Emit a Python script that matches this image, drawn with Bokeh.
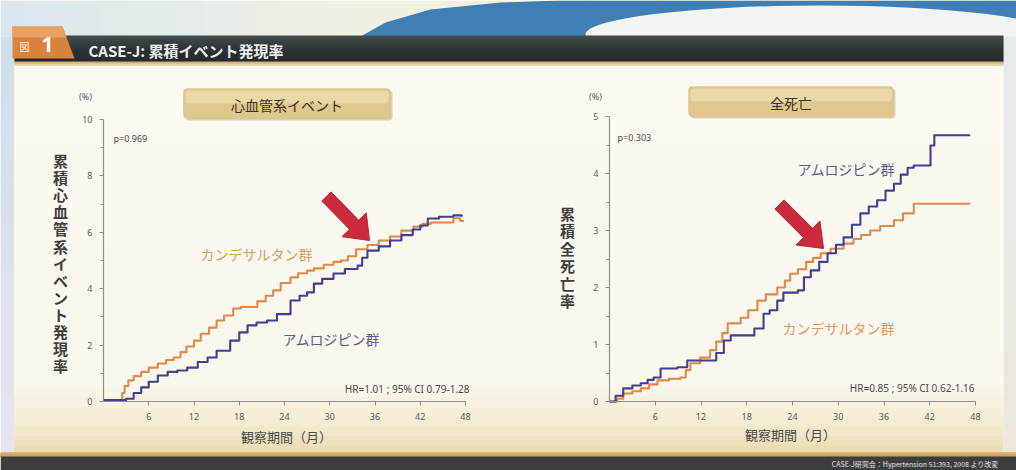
import math
from bokeh.plotting import figure
from bokeh.models import Range1d, LinearAxis, FixedTicker, BoxAnnotation, Label
from bokeh.core.properties import value
from bokeh.embed import file_html
from bokeh.resources import INLINE

# ---------------- data ----------------
month_ticks = [6, 12, 18, 24, 30, 36, 42, 48]
cv_ticks = [0, 2, 4, 6, 8, 10]
cv_minor = [1, 3, 5, 7, 9]
death_ticks = [0, 1, 2, 3, 4, 5]
death_minor = [0.5, 1.5, 2.5, 3.5, 4.5]

# cumulative cardiovascular events (%), candesartan
cv_cand_t = [0, 2.5, 2.8, 3.3, 4.0, 5.0, 6.0, 7.2, 8.3, 9.3, 10.2, 11.0, 12.0, 12.9, 14.0,
             15.0, 16.0, 17.2, 18.2, 20.4, 21.5, 22.5, 23.5, 24.8, 25.8, 27.0, 27.9, 29.2,
             30.5, 31.5, 32.4, 33.5, 35.0, 36.5, 38.0, 39.5, 41.1, 42.3, 43.4, 46.4, 47.3, 47.8]
cv_cand_v = [0.05, 0.3, 0.55, 0.75, 0.9, 1.05, 1.2, 1.35, 1.47, 1.56, 1.75, 1.95, 2.16, 2.4,
             2.62, 2.87, 3.05, 3.3, 3.35, 3.55, 3.75, 3.94, 4.2, 4.4, 4.55, 4.64, 4.72, 4.85,
             4.95, 5.0, 5.15, 5.4, 5.55, 5.71, 5.85, 6.06, 6.2, 6.3, 6.35, 6.5, 6.4, 6.4]

# cumulative cardiovascular events (%), amlodipine
cv_aml_t = [0, 3.0, 4.0, 5.0, 6.0, 7.2, 8.5, 9.8, 11.1, 12.5, 13.8, 15.0, 16.8, 18.0, 19.1,
            20.3, 21.7, 23.0, 24.8, 26.0, 27.0, 27.9, 29.0, 30.5, 32.0, 33.7, 34.3, 35.0,
            36.5, 38.0, 39.5, 41.0, 42.0, 43.0, 44.5, 46.4, 47.5]
cv_aml_v = [0.05, 0.1, 0.3, 0.5, 0.7, 0.92, 1.05, 1.1, 1.2, 1.4, 1.56, 1.8, 2.16, 2.45, 2.7,
            2.8, 2.87, 3.1, 3.58, 3.75, 3.87, 4.18, 4.35, 4.54, 4.7, 4.82, 5.1, 5.35, 5.5,
            5.71, 5.9, 6.1, 6.24, 6.49, 6.55, 6.6, 6.55]

# cumulative all-cause death (%), amlodipine
death_aml_t = [0, 0.8, 1.8, 3.0, 4.1, 5.0, 5.8, 6.7, 8.9, 10.2, 14.0, 15.0, 15.9, 19.0, 20.2,
               21.0, 22.0, 22.8, 24.7, 25.5, 26.4, 27.5, 28.6, 29.7, 30.7, 31.8, 32.9, 34.0,
               35.1, 36.2, 37.3, 38.2, 39.1, 39.9, 42.1, 42.6, 47.3]
death_aml_v = [0, 0.1, 0.23, 0.28, 0.32, 0.38, 0.42, 0.58, 0.6, 0.72, 0.85, 1.07, 1.16, 1.28,
               1.54, 1.6, 1.77, 1.91, 1.95, 2.18, 2.3, 2.45, 2.6, 2.75, 2.88, 3.1, 3.3, 3.42,
               3.53, 3.7, 3.82, 3.98, 4.1, 4.14, 4.49, 4.67, 4.67]

# cumulative all-cause death (%), candesartan
death_cand_t = [0, 1.0, 1.8, 3.0, 4.1, 5.2, 6.3, 7.8, 9.3, 10.0, 10.6, 11.9, 13.2, 14.0, 14.8,
                15.5, 17.2, 18.2, 19.4, 20.5, 22.0, 23.0, 23.7, 24.7, 25.8, 26.7, 27.7, 29.0,
                30.7, 32.0, 33.0, 34.2, 35.5, 37.3, 38.5, 39.9, 47.3]
death_cand_v = [0, 0.05, 0.14, 0.18, 0.23, 0.3, 0.37, 0.4, 0.42, 0.55, 0.67, 0.77, 0.9, 1.05,
                1.2, 1.37, 1.47, 1.6, 1.77, 1.88, 2.0, 2.12, 2.24, 2.32, 2.45, 2.52, 2.6, 2.68,
                2.77, 2.85, 2.92, 3.0, 3.08, 3.18, 3.3, 3.47, 3.47]

# ---------------- styling ----------------
W, H = 1016, 470
JP_NAME = "Noto Sans CJK JP"
JP = value(JP_NAME)
NUM = "Noto Sans"
ORANGE = "#e0894c"
BLUE = "#3f418f"

p = figure(width=W, height=H, x_range=Range1d(0, W), y_range=Range1d(H, 0),
           output_backend="svg", toolbar_location=None, min_border=0,
           x_axis_type=None, y_axis_type=None)
p.outline_line_color = None
p.background_fill_color = "#faf8f0"
p.border_fill_color = "#faf8f0"


def hexrgb(c):
    c = c.lstrip("#")
    return tuple(int(c[i:i + 2], 16) for i in (0, 2, 4))


def blend(stops, t):
    for (t0, c0), (t1, c1) in zip(stops[:-1], stops[1:]):
        if t <= t1:
            f = 0 if t1 == t0 else (t - t0) / (t1 - t0)
            a, b = hexrgb(c0), hexrgb(c1)
            return "#%02x%02x%02x" % tuple(round(a[i] + (b[i] - a[i]) * f) for i in range(3))
    return stops[-1][1]


def gradient(x0, x1, y0, y1, stops, vertical=True, n=40):
    L, R, T, B, C = [], [], [], [], []
    for i in range(n):
        f0, f1 = i / n, (i + 1) / n
        C.append(blend(stops, (f0 + f1) / 2))
        if vertical:
            L.append(x0); R.append(x1)
            T.append(y0 + (y1 - y0) * f0); B.append(y0 + (y1 - y0) * f1 + 0.6)
        else:
            L.append(x0 + (x1 - x0) * f0); R.append(x0 + (x1 - x0) * f1 + 0.6)
            T.append(y0); B.append(y1)
    p.quad(left=L, right=R, top=T, bottom=B, fill_color=C, line_color=None)


# page backdrop
gradient(0, W, 0, 36, [(0, "#d9e6ee"), (0.35, "#eef0e2"), (0.6, "#f5f0d4"), (1, "#f3efd6")],
         vertical=False)
p.patch([360, 385, 430, 500, 560, W, W], [36, 22, 9, 2, 0, 0, 36], fill_color="#3f7fb4",
        line_color=None)
p.ellipse(x=[820], y=[34], width=[470], height=[58], fill_color="#f2f4f0", line_color=None)
gradient(0, 14, 36, 455, [(0, "#cfdfea"), (1, "#e6e2ee")])
gradient(1003, W, 36, 455, [(0, "#e6ecee"), (1, "#ece6da")])
gradient(14, 1003, 64, 455, [(0, "#fbf9f2"), (0.82, "#faf7ec"), (0.92, "#f4ebd0"),
                              (1, "#ead9ae")])
gradient(0, W, 452, 456, [(0, "#d9b46e"), (1, "#caa266")])
p.quad(left=[0], right=[W], top=[456], bottom=[H], fill_color="#3a3e3f", line_color=None)

# header bar and tab
gradient(14, 1003, 35, 61, [(0, "#454c4e"), (0.5, "#2e3536"), (1, "#22292a")], n=13)
gradient(14, 1003, 61, 65, [(0, "#c9a060"), (1, "#f1e2bf")], n=4)
p.patch([12, 62, 74, 12], [26, 26, 58, 58], fill_color="#d9833f", line_color=None)
p.patch([12, 62, 66, 12], [26, 26, 37, 37], fill_color="#e9a060", line_color=None)
p.text(x=[24], y=[46], text=["図"], text_font=JP, text_font_size="10px",
       text_color="#fff4e8", text_baseline="middle", text_align="center")
p.text(x=[47], y=[44], text=["1"], text_font=value(NUM), text_font_size="21px",
       text_font_style="bold", text_color="#ffffff", text_baseline="middle",
       text_align="center")
p.text(x=[88], y=[50], text=["CASE-J: 累積イベント発現率"], text_font=JP,
       text_font_size="15px", text_font_style="bold", text_color="#eeeeee",
       text_baseline="middle")
p.text(x=[998], y=[463], text=["CASE-J研究会：Hypertension 51:393, 2008 より改変"],
       text_font=JP, text_font_size="7px", text_color="#e8e8e8", text_baseline="middle",
       text_align="right")

# panel title boxes (labels added after the boxes so they sit on top)
for (l, r, t, b, label) in [(183, 390, 88, 118, "心血管系イベント"), (688, 893, 86, 116, "全死亡")]:
    p.add_layout(BoxAnnotation(left=l + 2, right=r + 2, top=t + 2, bottom=b + 2,
                               fill_color="#c8b488", fill_alpha=0.6, line_color=None,
                               border_radius=4))
    p.add_layout(BoxAnnotation(left=l, right=r, top=t, bottom=b, fill_color="#dfc78e",
                               fill_alpha=1, line_color="#cdb277", line_width=1,
                               border_radius=4))
    p.add_layout(BoxAnnotation(left=l + 2, right=r - 2, top=t + 2, bottom=(t + b) / 2,
                               fill_color="#ecdcae", fill_alpha=0.8, line_color=None,
                               border_radius=3))
    p.add_layout(Label(x=(l + r) / 2, y=(t + b) / 2 + 1, text=label, text_font=JP_NAME,
                       text_font_size="14px", text_color="#3a3022", text_baseline="middle",
                       text_align="center"))

# ---------------- chart scales ----------------
charts = {
    # name: (px of x=0, px of x=48, px of y=0, px of y=top, y top)
    "cv": (103, 465, 401, 119, 10),
    "death": (609, 975, 401, 116, 5),
}
xr, yr = {}, {}
for name, (x0, x1, y0, y1, ytop) in charts.items():
    sx = (x1 - x0) / 48.0
    sy = (y0 - y1) / float(ytop)
    xr[name] = Range1d(-x0 / sx, (W - x0) / sx)
    yr[name] = Range1d(-(H - y0) / sy, y0 / sy)
p.extra_x_ranges = xr
p.extra_y_ranges = yr


def axes(name, ymax, yt, ym):
    xa = LinearAxis(x_range_name=name, y_range_name=name, fixed_location=0, bounds=(0, 48),
                    ticker=FixedTicker(ticks=month_ticks))
    ya = LinearAxis(x_range_name=name, y_range_name=name, fixed_location=0, bounds=(0, ymax),
                    ticker=FixedTicker(ticks=yt, minor_ticks=ym))
    for ax in (xa, ya):
        ax.axis_line_color = "#8e8e8e"
        ax.axis_line_width = 1.2
        ax.major_tick_line_color = "#8e8e8e"
        ax.minor_tick_line_color = "#8e8e8e"
        ax.major_tick_in = 0
        ax.major_tick_out = 4
        ax.minor_tick_in = 0
        ax.minor_tick_out = 3
        ax.major_label_text_font = NUM
        ax.major_label_text_font_size = "9px"
        ax.major_label_text_color = "#5a5a5a"
        ax.major_label_standoff = 7
    xa.minor_tick_out = 0
    p.add_layout(xa, "below")
    p.add_layout(ya, "left")


axes("cv", 10, cv_ticks, cv_minor)
axes("death", 5, death_ticks, death_minor)

# Kaplan-Meier style step curves
for name, t, v, col in [("cv", cv_cand_t, cv_cand_v, ORANGE), ("cv", cv_aml_t, cv_aml_v, BLUE),
                        ("death", death_cand_t, death_cand_v, ORANGE),
                        ("death", death_aml_t, death_aml_v, BLUE)]:
    p.step(x=t, y=v, mode="after", x_range_name=name, y_range_name=name, line_color=col,
           line_width=2.1, line_join="round")


# red arrows
def arrow(tail, tip, sw=13, hw=34, hl=22):
    (tx, ty), (hx, hy) = tail, tip
    L = math.hypot(hx - tx, hy - ty)
    ux, uy = (hx - tx) / L, (hy - ty) / L
    nx, ny = -uy, ux
    bx, by = hx - ux * hl, hy - uy * hl
    xs = [tx + nx * sw / 2, bx + nx * sw / 2, bx + nx * hw / 2, hx, bx - nx * hw / 2,
          bx - nx * sw / 2, tx - nx * sw / 2]
    ys = [ty + ny * sw / 2, by + ny * sw / 2, by + ny * hw / 2, hy, by - ny * hw / 2,
          by - ny * sw / 2, ty - ny * sw / 2]
    p.patch(xs, ys, fill_color="#cc2a3d", line_color="#b82234", line_width=1)


arrow((326, 196), (369, 240))
arrow((779, 204), (823, 248))


# text annotations
def txt(x, y, s, size, color, align="left", font=JP, style="normal"):
    p.text(x=[x], y=[y], text=[s], text_font=font, text_font_size=size, text_color=color,
           text_baseline="middle", text_align=align, text_font_style=style)


txt(85, 96, "(%)", "9px", "#5a5a5a", "center", value(NUM))
txt(595, 96, "(%)", "9px", "#5a5a5a", "center", value(NUM))
txt(113, 138, "p=0.969", "9px", "#4a4a4a", "left", value(NUM))
txt(617, 137, "p=0.303", "9px", "#4a4a4a", "left", value(NUM))
txt(256, 253, "カンデサルタン群", "14px", "#d99a66", "center")
txt(331, 338, "アムロジピン群", "14px", "#5b5f86", "center")
txt(846, 168, "アムロジピン群", "14px", "#5b5f86", "center")
txt(838, 327, "カンデサルタン群", "14px", "#d99a66", "center")
txt(469, 388, "HR=1.01 ; 95% CI 0.79-1.28", "10px", "#4a4a4a", "right", value(NUM))
txt(974, 387, "HR=0.85 ; 95% CI 0.62-1.16", "10px", "#4a4a4a", "right", value(NUM))
txt(286, 436, "観察期間（月）", "13px", "#4a4a4a", "center")
txt(790, 434, "観察期間（月）", "13px", "#4a4a4a", "center")

# vertical axis titles, one character per line
for s, xc, ystart, step in [("累積心血管系イベント発現率", 60, 160, 17.1),
                            ("累積全死亡率", 567, 213, 17.4)]:
    chars = list(s)
    p.text(x=[xc] * len(chars), y=[ystart + i * step for i in range(len(chars))], text=chars,
           text_font=JP, text_font_size="15px", text_font_style="bold",
           text_color="#3e3e3e", text_baseline="middle", text_align="center")

open("out.html", "w").write(file_html(p, INLINE))
